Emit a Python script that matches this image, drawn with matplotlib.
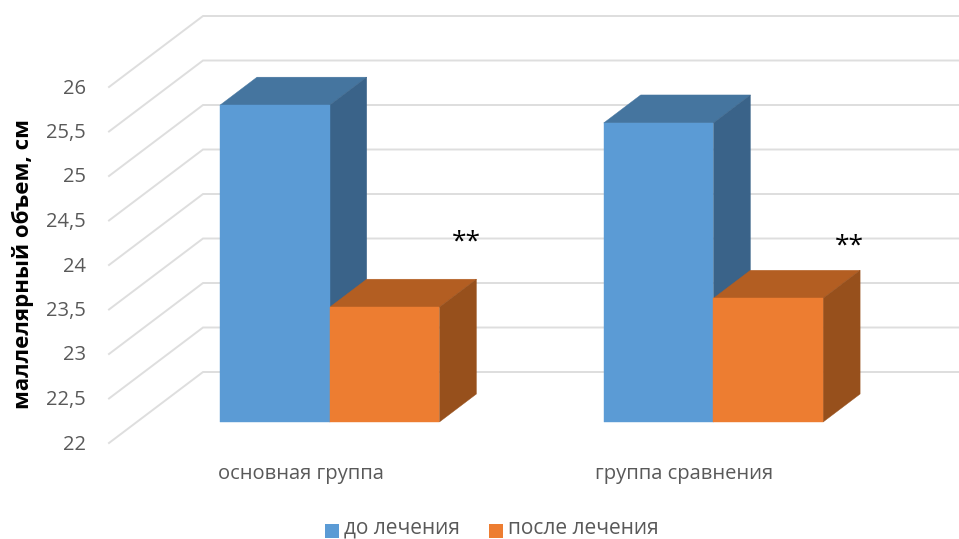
import matplotlib
matplotlib.use('Agg')
import matplotlib.pyplot as plt
from matplotlib.patches import Polygon, Rectangle

plt.rcParams['font.family'] = ['Open Sans', 'DejaVu Sans']

# Chart values
groups = ['основная группа', 'группа сравнения']
series_names = ['до лечения', 'после лечения']
before = [25.56, 25.36]
after = [23.29, 23.39]
ticks = [22, 22.5, 23, 23.5, 24, 24.5, 25, 25.5, 26]
tick_labels = ['22', '22,5', '23', '23,5', '24', '24,5', '25', '25,5', '26']

# Layout of the pseudo-3D box, in pixels
BACK_LEFT, FLOOR_LEFT = 203, 109
BACK_Y22, UNIT = 372, 89
WALL_DX, WALL_DY = 94, 71
FRONT_Y22 = 422
BAR_W = 109.7
DEPTH_X, DEPTH_Y = 37, 28
group_left = [220, 603.7]

BLUE = ('#5b9bd5', '#45759f', '#3a6389')
ORANGE = ('#ed7d31', '#b35e22', '#97501c')
GRID = '#dedede'
TEXT = '#595959'

fig = plt.figure(figsize=(9.59, 5.39), dpi=100)
ax = fig.add_axes([0, 0, 1, 1])
ax.set_xlim(0, 959)
ax.set_ylim(539, 0)
ax.axis('off')


def draw_bar(left, value, colors):
    top = FRONT_Y22 - (value - 22) * UNIT
    right = left + BAR_W
    # roof and side first, front face on top
    ax.add_patch(Polygon([(left, top), (left + DEPTH_X, top - DEPTH_Y),
                          (right + DEPTH_X, top - DEPTH_Y), (right, top)],
                         facecolor=colors[1], edgecolor=colors[1], lw=0.3, zorder=3))
    ax.add_patch(Polygon([(right, top), (right + DEPTH_X, top - DEPTH_Y),
                          (right + DEPTH_X, FRONT_Y22 - DEPTH_Y), (right, FRONT_Y22)],
                         facecolor=colors[2], edgecolor=colors[2], lw=0.3, zorder=3))
    ax.add_patch(Polygon([(left, top), (right, top), (right, FRONT_Y22), (left, FRONT_Y22)],
                         facecolor=colors[0], edgecolor=colors[0], lw=0.3, zorder=4))


# Gridlines: diagonal on the side wall, horizontal on the back wall
for t, lab in zip(ticks, tick_labels):
    y = BACK_Y22 - (t - 22) * UNIT
    ax.plot([FLOOR_LEFT, BACK_LEFT, 959], [y + WALL_DY, y, y], color=GRID, lw=1.4,
            solid_joinstyle='miter', zorder=1)
    ax.text(86, y + WALL_DY + 1.5, lab, ha='right', va='center', fontsize=14.5, color=TEXT)

# Bars, group labels and significance marks
for i, name in enumerate(groups):
    left = group_left[i]
    draw_bar(left, before[i], BLUE)
    draw_bar(left + BAR_W, after[i], ORANGE)

ax.text(301, 474, groups[0], ha='center', va='center', fontsize=14.5, color=TEXT)
ax.text(684, 474, groups[1], ha='center', va='center', fontsize=14.5, color=TEXT)
ax.text(466, 242, '**', ha='center', va='center', fontsize=19, color='black')
ax.text(849, 246, '**', ha='center', va='center', fontsize=19, color='black')

ax.text(23, 264, 'маллелярный объем, см', rotation=90, ha='center', va='center',
        fontsize=16, fontweight='bold', color='black')

# Legend
ax.add_patch(Rectangle((325, 524), 14, 14, facecolor=BLUE[0], edgecolor='none'))
ax.text(344, 533.5, series_names[0], ha='left', va='baseline', fontsize=15, color=TEXT)
ax.add_patch(Rectangle((489, 524), 14, 14, facecolor=ORANGE[0], edgecolor='none'))
ax.text(508, 533.5, series_names[1], ha='left', va='baseline', fontsize=15, color=TEXT)

fig.savefig('out.png', dpi=100)
plt.close(fig)
